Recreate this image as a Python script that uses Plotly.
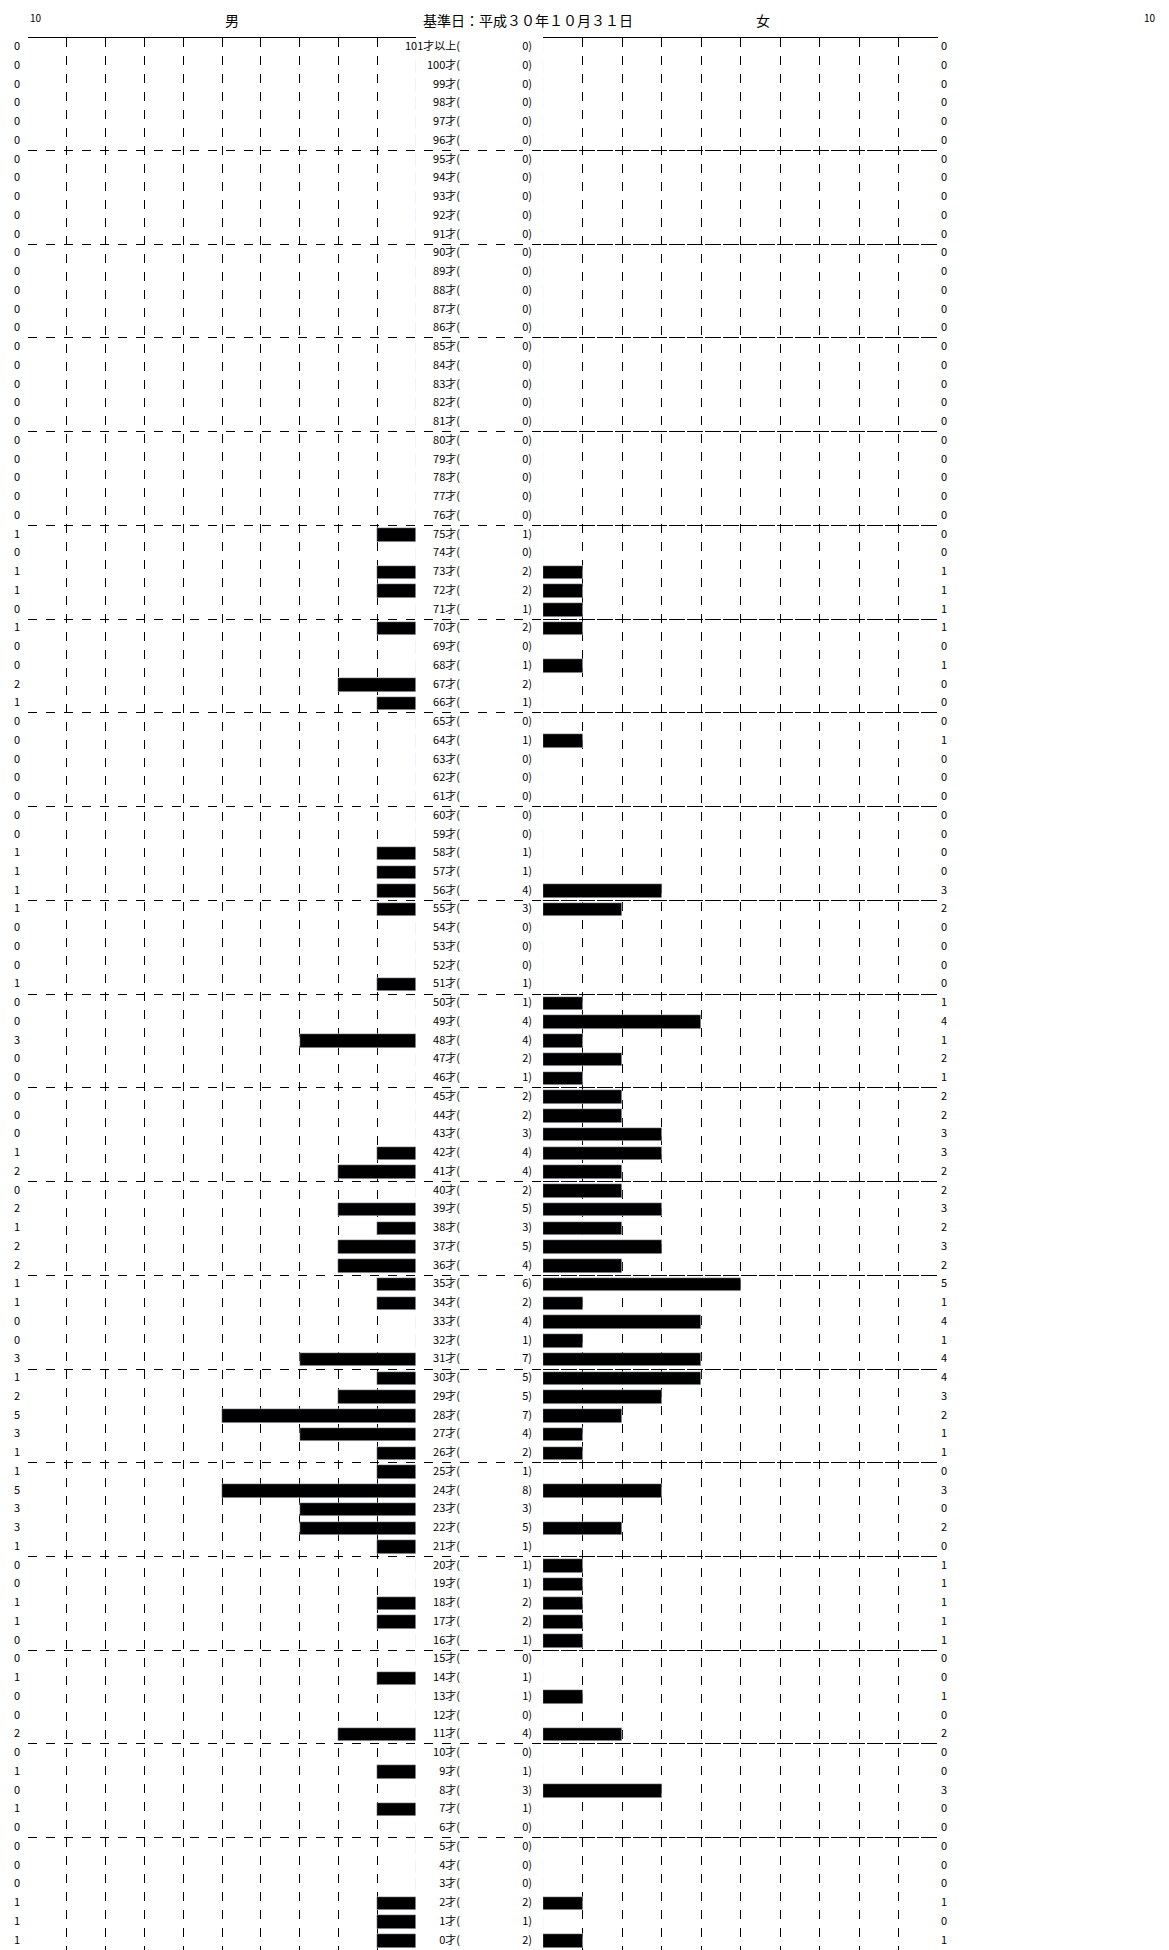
import plotly.graph_objects as go

male_d = {75:1,73:1,72:1,70:1,67:2,66:1,58:1,57:1,56:1,55:1,51:1,48:3,42:1,41:2,39:2,38:1,37:2,36:2,35:1,34:1,
          31:3,30:1,29:2,28:5,27:3,26:1,25:1,24:5,23:3,22:3,21:1,18:1,17:1,14:1,11:2,9:1,7:1,2:1,1:1,0:1}
female_d = {73:1,72:1,71:1,70:1,68:1,64:1,56:3,55:2,50:1,49:4,48:1,47:2,46:1,45:2,44:2,43:3,42:3,41:2,40:2,39:3,
            38:2,37:3,36:2,35:5,34:1,33:4,32:1,31:4,30:4,29:3,28:2,27:1,26:1,24:3,22:2,20:1,19:1,18:1,17:1,16:1,
            13:1,11:2,8:3,2:1,0:1}
rows = list(range(0, 102))
male = [male_d.get(r, 0) for r in rows]
female = [female_d.get(r, 0) for r in rows]
total = [m + f for m, f in zip(male, female)]
labels = [f"{r}才(" for r in rows[:-1]] + ["101才以上("]

W = 1169
FONT = "Noto Sans CJK JP"
TF = dict(size=11, family=FONT, color="black")
fig = go.Figure()
fig.add_trace(go.Bar(y=rows, x=male, orientation="h", marker_color="black", width=0.72,
                     xaxis="x", yaxis="y", showlegend=False))
fig.add_trace(go.Bar(y=rows, x=female, orientation="h", marker_color="black", width=0.72,
                     xaxis="x2", yaxis="y", showlegend=False))
for xs, txt, pos, ax, ay in [(9, [str(v) for v in male], "middle center", "x4", "y2"),
                             (936, [str(v) for v in female], "middle center", "x4", "y2"),
                             (452, labels, "middle left", "x3", "y"),
                             (524, [f"{v})" for v in total], "middle left", "x3", "y")]:
    fig.add_trace(go.Scatter(x=[xs]*102, y=rows, text=txt, mode="text", textposition=pos,
                             textfont=TF, xaxis=ax, yaxis=ay, showlegend=False, cliponaxis=False))

top = 1 - 30/1950
grid = dict(showgrid=True, gridcolor="black", griddash="dash", gridwidth=1, dtick=1,
            showticklabels=False, ticks="", zeroline=False, showline=True, linecolor="black",
            linewidth=1, mirror=True, fixedrange=True)
fig.update_layout(
    width=W, height=1950, margin=dict(l=0, r=0, t=0, b=0),
    plot_bgcolor="rgba(0,0,0,0)", paper_bgcolor="white", bargap=0,
    xaxis=dict(domain=[20/W, 408/W], range=[10, 0], anchor="y", **grid),
    xaxis2=dict(domain=[535/W, 930/W], range=[0, 10], anchor="y", **grid),
    xaxis3=dict(domain=[20/W, 930/W], range=[20, 930], visible=False, anchor="y"),
    xaxis4=dict(domain=[0, 1], range=[0, W], visible=False, anchor="y2"),
    yaxis=dict(domain=[0.004, top], range=[-0.5, 101.5], tickvals=[i + 0.5 for i in range(5, 100, 5)],
               showgrid=True, gridcolor="black", griddash="dash", showticklabels=False, ticks="",
               zeroline=False, showline=False),
    yaxis2=dict(overlaying="y", range=[-0.5, 101.5], visible=False, showgrid=False, anchor="x4"),
    annotations=[
        dict(x=20/W, y=1, xref="paper", yref="paper", text="10", showarrow=False, font=dict(size=10, family=FONT, color="black"), yanchor="top"),
        dict(x=1150/W, y=1, xref="paper", yref="paper", text="10", showarrow=False, font=dict(size=10, family=FONT, color="black"), yanchor="top"),
        dict(x=215/W, y=1, xref="paper", yref="paper", text="男", showarrow=False, font=dict(size=14, family=FONT, color="black"), yanchor="top"),
        dict(x=755/W, y=1, xref="paper", yref="paper", text="女", showarrow=False, font=dict(size=14, family=FONT, color="black"), yanchor="top"),
        dict(x=520/W, y=1, xref="paper", yref="paper", text="基準日：平成３０年１０月３１日", showarrow=False, font=dict(size=14, family=FONT, color="black"), yanchor="top"),
    ],
)
fig.write_html("out.html")
